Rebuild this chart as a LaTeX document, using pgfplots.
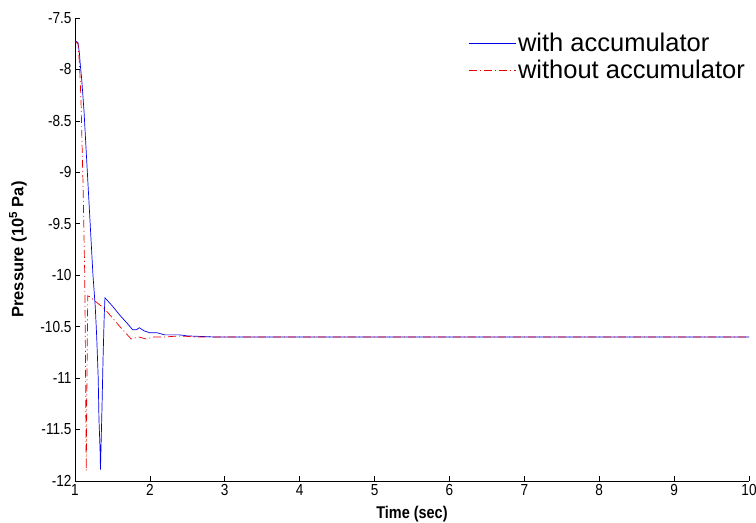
\documentclass[border=0pt]{standalone}
\usepackage{pgfplots}
\pgfplotsset{compat=1.18}
\usepackage{fontspec}
\setmainfont{Liberation Sans}
\newfontfamily\tickfont[FakeStretch=0.85]{Liberation Sans}
\definecolor{mblue}{RGB}{0,0,235}
\definecolor{mred}{RGB}{235,0,0}
\begin{document}
\begin{tikzpicture}
\begin{axis}[
  at={(0,0)}, anchor=south west,
  scale only axis, width=674pt, height=463pt,
  xmin=1, xmax=10, ymin=-12, ymax=-7.5,
  enlargelimits=false,
  axis lines=left,
  axis line style={-, black, line width=0.7pt},
  tick align=inside, major tick length=5pt,
  tick style={black, line width=0.6pt},
  xtick={1,2,3,4,5,6,7,8,9,10},
  ytick={-12,-11.5,-11,-10.5,-10,-9.5,-9,-8.5,-8,-7.5},
  yticklabels={-12,-11.5,-11,-10.5,-10,-9.5,-9,-8.5,-8,-7.5},
  /pgf/number format/assume math mode=true,
  ticklabel style={font=\tickfont\fontsize{16}{16}\selectfont},
  xlabel={\bfseries Time (sec)},
  ylabel={\bfseries Pressure (10\textsuperscript{5} Pa)},
  xlabel style={font=\tickfont\fontsize{17}{17}\selectfont, at={(rel axis cs:0.5,0)}, anchor=center, yshift=-33pt},
  ylabel style={font=\fontsize{16.5}{16.5}\selectfont, at={(rel axis cs:0,0.5)}, anchor=center, yshift=57pt},
  legend style={draw=none, fill=none, at={(rel axis cs:0.583,0.972)}, anchor=north west,
    font=\fontsize{25.5}{28}\selectfont, row sep=3pt, inner sep=0pt},
  legend cell align=left,
  legend image code/.code={\draw[#1, line width=0.9pt] (0pt,0pt) -- (47pt,0pt);},
]
\addplot[color=mblue, line width=0.7pt] coordinates {
(1,-7.72)(1.04,-7.74)(1.06,-7.85)(1.07,-7.95)(1.09,-8.1)(1.12,-8.4)(1.15,-8.8)(1.18,-9.2)
(1.21,-9.6)(1.24,-10.0)(1.27,-10.3)(1.29,-10.6)(1.31,-11.0)(1.32,-11.4)(1.335,-11.7)(1.34,-11.89)
(1.36,-11.3)(1.375,-10.8)(1.39,-10.4)(1.40,-10.22)(1.5,-10.3)(1.6,-10.39)(1.7,-10.47)
(1.77,-10.53)(1.82,-10.53)(1.86,-10.51)(1.92,-10.54)(2.0,-10.56)(2.1,-10.56)(2.15,-10.57)
(2.2,-10.58)(2.4,-10.58)(2.5,-10.59)(2.85,-10.6)(10,-10.6)};
\addlegendentry{with accumulator}
\addplot[color=mred, line width=0.7pt,
  dash pattern=on 8pt off 3pt on 1pt off 3pt] coordinates {
(1,-7.73)(1.04,-7.75)(1.06,-7.95)(1.08,-8.3)(1.09,-8.6)(1.11,-9.2)(1.12,-9.6)(1.13,-10.0)
(1.14,-10.8)(1.145,-11.4)(1.15,-11.9)(1.16,-11.0)(1.17,-10.2)(1.2,-10.21)(1.4,-10.33)
(1.6,-10.5)(1.75,-10.62)(1.85,-10.6)(1.95,-10.62)(2.05,-10.6)(2.2,-10.6)(2.4,-10.59)
(2.6,-10.6)(10,-10.6)};
\addlegendentry{without accumulator}
\coordinate (sw) at (rel axis cs:0,0);
\coordinate (ne) at (rel axis cs:1,1);
\end{axis}
\pgfresetboundingbox
\path[use as bounding box] ([xshift=-75pt,yshift=-42pt]sw) rectangle ([xshift=7pt,yshift=18pt]ne);
\end{tikzpicture}
\end{document}
